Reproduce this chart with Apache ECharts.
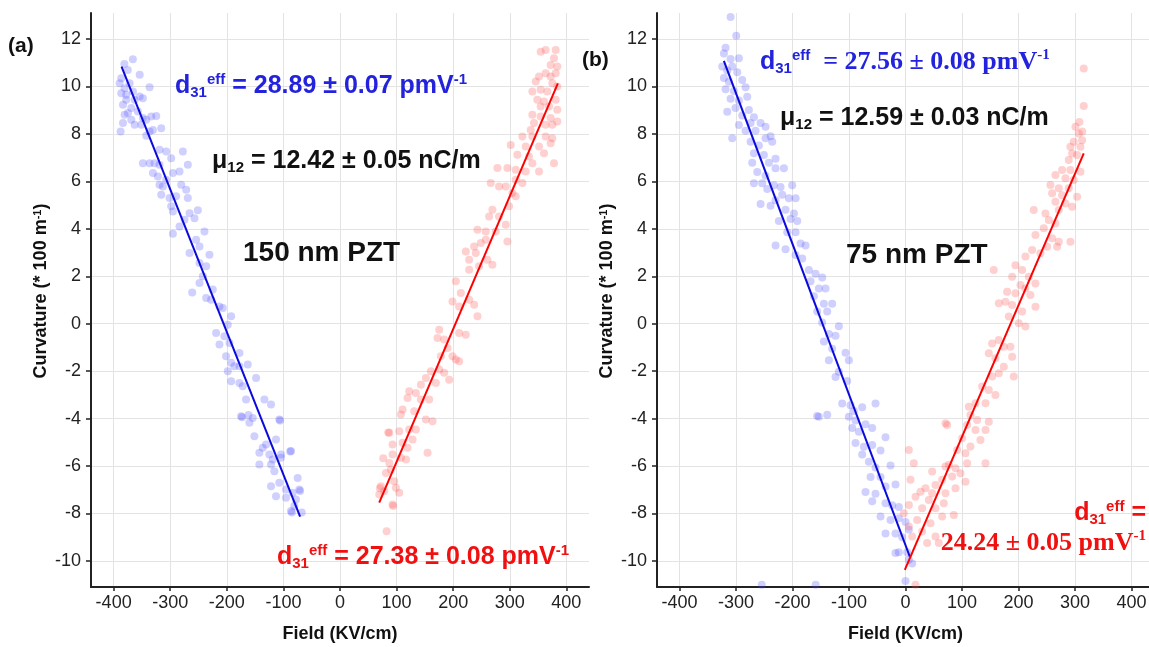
<!DOCTYPE html>
<html>
<head>
<meta charset="utf-8">
<script src="https://cdn.jsdelivr.net/npm/echarts@6/dist/echarts.min.js"></script>
<style>
html,body{margin:0;padding:0;background:#fff;}
#chart{width:1149px;height:647px;}
</style>
</head>
<body>
<div id="chart"></div>
<script>
// ---------- DATA ----------
const xTicks = [-400, -300, -200, -100, 0, 100, 200, 300, 400];
const yTicks = [-10, -8, -6, -4, -2, 0, 2, 4, 6, 8, 10, 12];
const xTitle = 'Field (KV/cm)';
const yTitle = 'Curvature (* 100 m{s|-1})';

// Panel (a) 150 nm PZT, negative field (blue) points
const aBlue = [
[-366,11.15],[-381,10.95],[-375,10.7],[-354,10.5],[-386.5,10.35],[-389.4,10.14],[-371.8,10.14],[-380.6,9.93],
[-365.9,9.79],[-354.1,9.58],[-336.5,9.97],[-348.3,9.51],[-386.5,9.72],[-377.7,9.44],[-383.5,9.23],[-368.8,9.09],
[-374.7,8.88],[-357.1,8.95],[-380.6,8.81],[-368.8,8.6],[-383.5,8.46],[-362.9,8.39],[-348.3,8.67],[-333.6,8.74],
[-324.7,8.76],[-342.4,8.6],[-315.9,8.24],[-336.5,8.1],[-387.7,8.1],[-342.4,7.92],[-351.2,8.39],[-330.6,8.17],
[-362.9,9.44],[-377.7,9.65],[-318.9,7.33],[-307.1,7.26],[-277.7,7.26],[-298.3,6.98],[-348.3,6.77],[-336.5,6.77],
[-327.7,6.77],[-318.9,6.7],[-330.6,6.35],[-321.8,6.21],[-295.3,6.35],[-283.6,6.42],[-268.9,6.7],[-307.1,6.07],
[-318.9,5.86],[-313,5.79],[-280.6,5.86],[-271.8,5.65],[-315.9,5.44],[-301.2,5.3],[-289.5,5.37],[-268.9,5.3],
[-298.3,4.95],[-295.3,4.73],[-265.9,4.66],[-251.2,4.78],[-274.8,4.38],[-283.6,4.1],[-257.1,4.45],[-239.5,3.89],
[-295.3,3.79],[-254.2,3.54],[-248.3,3.26],[-265.9,2.98],[-230.7,2.91],[-236.5,2.42],[-248.3,2.56],[-242.4,2.0],
[-261.2,1.32],[-236.5,1.08],[-224.8,1.44],[-248.3,1.72],[-227.7,1.01],[-213,0.73],[-207.1,0.66],[-192.4,0.31],
[-198.3,-0.04],[-218.9,-0.39],[-204.2,-0.53],[-195.4,-0.81],[-213,-0.88],[-177.7,-1.23],[-201.3,-1.37],[-192.4,-1.65],
[-198.3,-2.0],[-186.6,-1.79],[-177.7,-1.79],[-163,-1.72],[-148.3,-2.29],[-192.4,-2.43],[-177.7,-2.5],[-171.9,-2.64],
[-166,-3.2],[-133.6,-3.2],[-121.9,-3.41],[-174.8,-3.9],[-154.2,-3.97],[-160.1,-4.18],[-151.3,-4.74],[-107.2,-4.04],
[-113.1,-4.88],[-130.7,-5.09],[-136.6,-5.23],[-142.5,-5.44],[-124.8,-5.51],[-104.2,-5.51],[-118.9,-5.72],[-142.5,-5.94],
[-121.9,-5.94],[-104.2,-5.65],[-86.6,-5.37],[-116,-6.22],[-74.8,-6.5],[-107.2,-6.71],[-95.4,-6.99],[-121.9,-6.85],
[-83.7,-7.13],[-71.9,-6.99],[-113.1,-7.27],[-95.4,-7.34],[-77.8,-7.41],[-86.6,-7.9],[-80.7,-7.69],[-173,-3.94],
[-161.7,-3.85],[-105.8,-4.08],[-88,-5.39],[-70.5,-7.05],[-67.6,-7.96],[-85,-7.96]
];

// Panel (a) positive field (red) points
const aRed = [
[354.6,11.47],[363.4,11.54],[381.1,11.54],[378.1,11.19],[372.2,10.91],[384,10.84],[381.1,10.56],[363.4,10.56],
[351.7,10.42],[372.2,10.42],[345.8,10.21],[375.2,10.14],[384,10.0],[354.6,9.86],[366.4,9.79],[339.9,9.79],
[348.7,9.44],[360.5,9.37],[381.1,9.44],[354.6,9.16],[369.3,9.16],[384,9.02],[339.9,8.81],[354.6,8.74],
[372.2,8.67],[384,8.53],[342.8,8.46],[363.4,8.39],[375.2,8.39],[337,8.17],[322.3,7.89],[339.9,7.89],
[363.4,7.89],[375.2,7.82],[372.2,7.61],[301.7,7.54],[328.1,7.47],[351.7,7.47],[360.5,7.19],[313.4,7.12],
[334,7.05],[339.9,6.77],[378.1,6.77],[278.2,6.56],[295.8,6.56],[310.5,6.49],[328.1,6.42],[351.7,6.42],
[266.4,5.93],[281.1,5.79],[292.9,5.79],[310.5,6.07],[322.3,5.93],[304.6,5.51],[310.5,5.37],[298.7,4.95],
[269.3,4.81],[263.5,4.52],[281.1,4.52],[292.9,4.17],[242.9,3.96],[257.6,3.89],[275.2,3.89],[257.6,3.54],
[248.8,3.4],[295.8,3.47],[237,3.26],[239.9,2.98],[222.3,3.05],[228.2,2.7],[260.5,2.7],[269.3,2.49],
[245.8,2.42],[228.2,2.28],[204.7,1.79],[213.5,1.3],[228.2,1.01],[237,0.8],[198.8,0.94],[210.5,0.73],
[242.9,0.31],[175.3,-0.25],[172.3,-0.6],[184.1,-0.67],[210.5,-0.39],[222.3,-0.46],[190,-1.02],[198.8,-1.37],
[204.7,-1.51],[210.5,-1.58],[178.2,-1.37],[175.3,-1.93],[160.6,-2.0],[184.1,-2.07],[192.9,-2.36],[151.7,-2.29],
[142.9,-2.57],[169.4,-2.5],[122.3,-2.85],[134.1,-2.92],[119.4,-3.13],[142.9,-3.2],[157.6,-3.2],[110.6,-3.62],
[131.2,-3.69],[163.5,-4.11],[151.7,-4.04],[107.6,-3.83],[87.1,-4.6],[104.7,-4.53],[122.3,-4.46],[134.1,-4.46],
[128.2,-4.88],[110.6,-5.02],[92.9,-5.09],[119.4,-5.23],[92.9,-5.51],[107.6,-5.65],[116.5,-5.72],[154.7,-5.44],
[87.1,-5.87],[81.2,-6.29],[90,-6.15],[72.4,-6.85],[95.9,-6.64],[98.8,-6.92],[78.2,-7.06],[104.7,-7.13],
[69.4,-7.2],[92.9,-7.62],[82.4,-8.75],[70.5,-6.94],[94,-7.68],[85.2,-4.59],[76.4,-5.67]
];

// Panel (b) 75 nm PZT, negative field (blue) points
const bBlue = [
[-309.7,12.93],[-299.7,12.14],[-318.6,11.63],[-321.5,11.39],[-309.7,11.16],[-295,11.19],[-324.5,10.84],[-315.6,10.68],
[-306.8,10.84],[-297.9,10.6],[-321.5,10.36],[-312.7,10.2],[-289.1,10.28],[-318.6,9.89],[-303.8,9.81],[-283.2,9.97],
[-309.7,9.49],[-295,9.41],[-280.2,9.57],[-300.9,9.09],[-277.3,9.01],[-315.6,8.94],[-289.1,8.78],[-268.4,8.7],
[-295,8.38],[-274.3,8.46],[-256.6,8.46],[-247.8,8.3],[-306.8,7.82],[-283.2,8.14],[-265.5,8.14],[-238.9,7.9],
[-274.3,7.67],[-259.6,7.51],[-247.8,7.82],[-236,7.67],[-268.4,7.19],[-250.7,7.11],[-230.1,6.95],[-241.9,6.79],
[-271.4,6.79],[-262.5,6.4],[-230.1,6.55],[-215.3,6.55],[-247.8,6.24],[-268.4,5.92],[-253.7,5.92],[-233,5.84],
[-221.2,5.76],[-200.6,5.84],[-244.8,5.68],[-218.3,5.44],[-206.5,5.29],[-230.1,5.21],[-194.7,5.29],[-256.6,5.05],
[-238.9,4.97],[-212.4,4.81],[-197.6,4.65],[-224.2,4.33],[-203.5,4.41],[-191.7,4.33],[-209.4,3.86],[-194.7,3.86],
[-230.1,3.3],[-212.4,3.14],[-185.8,3.38],[-177,3.3],[-194.7,2.9],[-182.9,2.75],[-171.1,2.27],[-159.3,2.11],
[-147.5,1.95],[-168.1,1.79],[-153.4,1.48],[-141.6,1.48],[-162.2,1.16],[-144.5,0.84],[-129.8,0.84],[-156.3,0.52],
[-138.6,0.52],[-147.5,0.05],[-118,-0.11],[-135.7,-0.43],[-123.9,-0.51],[-144.5,-0.75],[-129.8,-1.06],[-106.2,-1.22],
[-100.3,-1.54],[-135.7,-1.54],[-118,-2.02],[-123.9,-2.25],[-103.2,-2.41],[-112.1,-3.36],[-97.3,-3.44],[-76.7,-3.52],
[-91.4,-3.68],[-53.1,-3.36],[-153.4,-3.92],[-138.6,-3.84],[-100.3,-3.92],[-88.5,-4.08],[-70.8,-4.24],[-94.4,-4.4],
[-82.6,-4.55],[-59,-4.4],[-35.4,-4.79],[-88.5,-5.03],[-73.7,-5.19],[-59,-5.11],[-76.7,-5.51],[-44.2,-5.35],
[-64.9,-5.82],[-53.1,-6.06],[-26.5,-5.98],[-61.9,-6.46],[-44.2,-6.46],[-35.4,-6.86],[-70.8,-7.09],[-53.1,-7.17],
[-17.7,-6.78],[-59,-7.49],[-35.4,-7.57],[-23.6,-7.65],[-11.8,-7.73],[-44.2,-8.13],[-26.5,-8.28],[-11.8,-8.2],
[0,-8.36],[-35.4,-8.84],[-17.7,-8.84],[-5.9,-9.0],[5.9,-8.68],[-11.8,-9.63],[2.9,-9.63],[5.9,-9.95],
[11.8,-10.11],[0,-10.85],[-17.7,-9.67],[-156.5,-3.89],[-254.5,-11.0],[-159,-11.0]
];

// Panel (b) positive field (red) points
const bRed = [
[315.6,10.76],[315.6,9.18],[308,8.5],[313,8.1],
[300.9,8.3],[306.8,8.02],[312.7,7.74],[297.9,7.67],[292,7.46],[309.7,7.46],[295,7.18],[303.8,7.11],
[289.1,6.9],[277.3,6.48],[292,6.48],[309.7,6.41],[265.5,6.27],[283.2,6.13],[297.9,6.06],[256.6,5.85],
[271.4,5.71],[289.1,5.71],[259.6,5.5],[277.3,5.42],[303.8,5.35],[265.5,5.14],[283.2,5.07],[295,4.93],
[227.1,4.79],[247.8,4.65],[271.4,4.79],[253.7,4.37],[265.5,4.23],[244.8,4.02],[230.1,3.74],[259.6,3.6],
[271.4,3.46],[250.7,3.25],[268.4,3.25],[292,3.46],[224.2,3.11],[238.9,2.97],[212.4,2.83],[194.7,2.47],
[206.5,2.26],[188.8,1.98],[218.3,1.98],[156.3,2.26],[203.5,1.63],[212.4,1.49],[230.1,1.7],[179.9,1.35],
[194.7,1.28],[221.2,1.21],[177,0.93],[165.2,0.86],[188.8,0.79],[230.1,0.72],[206.5,0.51],[200.6,0.02],
[212.4,-0.12],[182.9,0.3],[165.2,-0.69],[153.4,-0.83],[174,-0.97],[147.5,-1.25],[159.3,-1.46],[185.8,-0.97],
[188.8,-1.39],[174,-1.81],[165.2,-2.09],[153.4,-2.23],[191.7,-2.23],[135.7,-2.65],[147.5,-2.79],[159.3,-3.0],
[123.9,-3.35],[112.1,-3.5],[141.6,-3.35],[115,-3.85],[126.8,-4.06],[147.5,-4.13],[109.1,-4.27],[123.9,-4.48],
[141.6,-4.48],[100.3,-4.83],[132.7,-4.9],[115,-5.18],[91.4,-5.32],[106.2,-5.46],[141.6,-5.88],[109.1,-5.88],
[76.7,-5.95],[88.5,-6.09],[70.8,-6.02],[47.2,-6.23],[97.3,-6.3],[82.6,-6.44],[64.9,-6.58],[106.2,-6.66],
[53.1,-6.8],[35.4,-6.94],[26.5,-7.08],[47.2,-7.15],[70.8,-7.15],[88.5,-6.94],[17.7,-7.29],[41.3,-7.43],
[67.8,-7.57],[5.9,-7.64],[29.5,-7.78],[53.1,-7.78],[64.9,-8.13],[85.5,-8.06],[20.6,-8.27],[44.2,-8.41],
[5.9,-8.55],[29.5,-8.76],[53.1,-8.97],[59,-9.25],[38.3,-9.25],[11.8,-8.97],[5.9,-5.32],[8.8,-6.58],
[14.7,-5.88],[73.7,-4.27],[-2.9,-7.99],[17.7,-11.0],[70.8,-4.2]
];

// Linear fit segments (endpoints)
const aBlueFit = [[-386, 10.84], [-70.5, -8.13]];
const aRedFit  = [[69.3, -7.54], [385, 10.13]];
const bBlueFit = [[-321.6, 11.08], [7.6, -9.82]];
const bRedFit  = [[-1.2, -10.38], [315.6, 7.18]];

// ---------- STYLE ----------
const BLUE_TXT = '#2323dd';
const RED_TXT = '#f01010';
const SANS = 'Arial, "Liberation Sans", Helvetica, sans-serif';
const SERIF = '"Times New Roman", "Liberation Serif", serif';

function rich(color) {
  const base = {fontWeight: 'bold', color: color};
  return {
    m: Object.assign({}, base, {fontFamily: SANS, fontSize: 25, lineHeight: 28}),
    sub: Object.assign({}, base, {fontFamily: SANS, fontSize: 15, lineHeight: 14, verticalAlign: 'bottom'}),
    sup: Object.assign({}, base, {fontFamily: SANS, fontSize: 15, lineHeight: 14, verticalAlign: 'top'}),
    t: Object.assign({}, base, {fontFamily: SERIF, fontSize: 26, lineHeight: 28}),
    tsup: Object.assign({}, base, {fontFamily: SERIF, fontSize: 15, lineHeight: 14, verticalAlign: 'top'}),
    big: Object.assign({}, base, {fontFamily: SANS, fontSize: 28, lineHeight: 32})
  };
}

function txt(x, y, text, color, align) {
  return {
    type: 'text', x: x, y: y, z: 100,
    style: {
      text: text, rich: rich(color), fill: color,
      font: 'bold 24px ' + SANS,
      verticalAlign: 'middle', align: align || 'left'
    }
  };
}

const axisLineStyle = {show: true, onZero: false, lineStyle: {color: '#222', width: 2}};
function xAxisCfg(gi) {
  return {
    type: 'value', gridIndex: gi, min: -440, max: 440,
    name: xTitle, nameLocation: 'middle', nameGap: 38,
    nameTextStyle: {fontFamily: SANS, fontWeight: 'bold', fontSize: 18, color: '#111'},
    axisLine: axisLineStyle,
    axisTick: {show: true, inside: false, length: 4, customValues: xTicks, lineStyle: {color: '#222', width: 1.5}},
    axisLabel: {customValues: xTicks, fontFamily: SANS, fontSize: 18, color: '#222', margin: 7},
    splitLine: {show: true, lineStyle: {color: '#e3e3e3', width: 1}}
  };
}
function yAxisCfg(gi) {
  return {
    type: 'value', gridIndex: gi, min: -11.1, max: 13.1,
    name: yTitle, nameLocation: 'middle', nameGap: 41, nameRotate: 90,
    nameTextStyle: {fontFamily: SANS, fontWeight: 'bold', fontSize: 18, color: '#111', padding: [0, 0, 0, 18],
      rich: {s: {fontFamily: SANS, fontWeight: 'bold', fontSize: 11, color: '#111', verticalAlign: 'top', lineHeight: 10}}},
    axisLine: axisLineStyle,
    axisTick: {show: true, inside: false, length: 5, customValues: yTicks, lineStyle: {color: '#222', width: 1.5}},
    axisLabel: {customValues: yTicks, fontFamily: SANS, fontSize: 18, color: '#222', margin: 10},
    splitLine: {show: true, lineStyle: {color: '#e3e3e3', width: 1}}
  };
}

function scatter(data, gi, color) {
  return {
    type: 'scatter', xAxisIndex: gi, yAxisIndex: gi, data: data,
    symbol: 'circle', symbolSize: 8, silent: true,
    itemStyle: {color: color, opacity: 0.26}, z: 2
  };
}
function fit(data, gi, color) {
  return {
    type: 'line', xAxisIndex: gi, yAxisIndex: gi, data: data,
    symbol: 'none', silent: true, lineStyle: {color: color, width: 2}, z: 3
  };
}

const chart = echarts.init(document.getElementById('chart'), null, {renderer: 'canvas'});
chart.setOption({
  backgroundColor: '#fff',
  animation: false,
  grid: [
    {left: 91, top: 13, width: 498, height: 574, outerBoundsMode: 'none'},
    {left: 657, top: 13, width: 497, height: 574, outerBoundsMode: 'none'}
  ],
  xAxis: [xAxisCfg(0), xAxisCfg(1)],
  yAxis: [yAxisCfg(0), yAxisCfg(1)],
  series: [
    scatter(aBlue, 0, '#4a4aff'),
    scatter(aRed, 0, '#ff4a4a'),
    scatter(bBlue, 1, '#4a4aff'),
    scatter(bRed, 1, '#ff4a4a'),
    fit(aBlueFit, 0, '#0a0adc'),
    fit(aRedFit, 0, '#ff0000'),
    fit(bBlueFit, 1, '#0a0adc'),
    fit(bRedFit, 1, '#ff0000')
  ],
  graphic: [
    {type: 'text', x: 8, y: 46, z: 100, style: {text: '(a)', font: 'bold 21px ' + SANS, fill: '#111', verticalAlign: 'middle'}},
    {type: 'text', x: 582, y: 60, z: 100, style: {text: '(b)', font: 'bold 21px ' + SANS, fill: '#111', verticalAlign: 'middle'}},
    txt(175, 86, '{m|d}{sub|31}{sup|eff}{m| = 28.89 ± 0.07 pmV}{sup|-1}', BLUE_TXT),
    txt(212, 161, '{m|μ}{sub|12}{m| = 12.42 ± 0.05 nC/m}', '#111'),
    txt(243, 253, '{big|150 nm PZT}', '#111'),
    txt(277, 557, '{m|d}{sub|31}{sup|eff}{m| = 27.38 ± 0.08 pmV}{sup|-1}', RED_TXT),
    txt(760, 62, '{m|d}{sub|31}{sup|eff}{t|  = 27.56 ± 0.08 pmV}{tsup|-1}', BLUE_TXT),
    txt(780, 118, '{m|μ}{sub|12}{m| = 12.59 ± 0.03 nC/m}', '#111'),
    txt(846, 255, '{big|75 nm PZT}', '#111'),
    txt(1146, 513, '{m|d}{sub|31}{sup|eff}{m| =}', RED_TXT, 'right'),
    txt(1146, 543, '{t|24.24 ± 0.05 pmV}{tsup|-1}', RED_TXT, 'right')
  ]
});
</script>
</body>
</html>
